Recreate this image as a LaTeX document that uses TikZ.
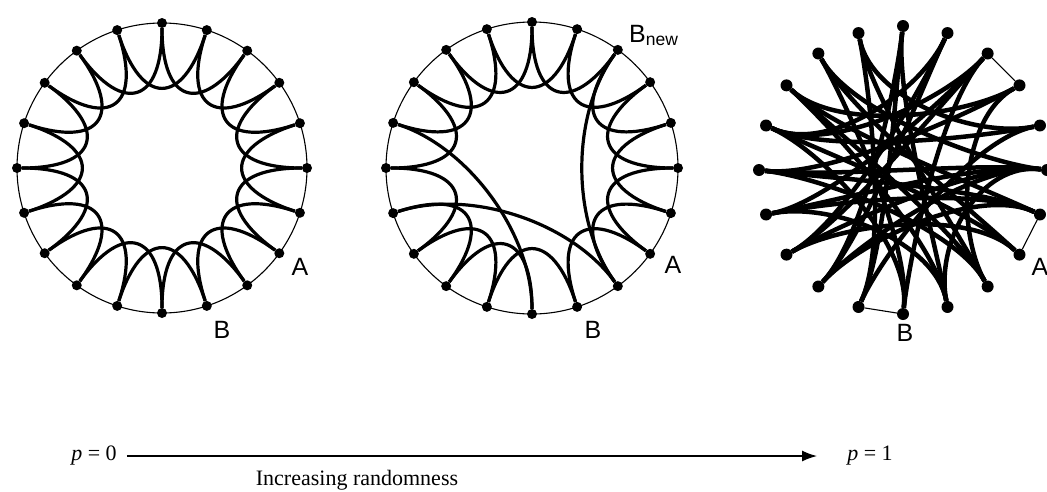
\documentclass[tikz,border=0pt]{standalone}
\usepackage{fontspec}
\setmainfont{Liberation Serif}
\newfontfamily\sflib{Liberation Sans}
\usetikzlibrary{arrows.meta}
\begin{document}
\begin{tikzpicture}[x=1pt,y=-1pt,
  dot/.style={circle,fill=black,inner sep=0pt,minimum size=10pt},
  bigdot/.style={circle,fill=black,inner sep=0pt,minimum size=12pt},
  ring/.style={line width=1.1pt},
  tedge/.style={line width=3.2pt},
  redge/.style={line width=4.5pt},
  lab/.style={font=\sflib\fontsize{25}{25}\selectfont,inner sep=0pt},
  txt/.style={font=\fontsize{22}{22}\selectfont,inner sep=0pt}
  ]
\path[use as bounding box] (0,0) rectangle (1047,491);

% ---------- circle 1 : regular ring ----------
\draw[ring] (162,168) circle[radius=145];
\foreach \k in {0,...,19}{
  \node[dot] (a\k) at ({162+145*cos(18*\k)},{168-145*sin(18*\k)}) {};
  \coordinate (ac\k) at ({162+65*cos(18*\k)},{168-65*sin(18*\k)});
}
\foreach \k [evaluate=\k as \j using {int(mod(\k+2,20))}] in {0,1,2,3,4,5,6,7,8,9,10,11,12,13,14,15,16,17,18,19}
  \draw[tedge] (a\k) .. controls (ac\k) and (ac\j) .. (a\j);

% ---------- circle 2 : small-world ----------
\draw[ring] (532,168) circle[radius=146];
\foreach \k in {0,...,19}{
  \node[dot] (b\k) at ({532+146*cos(18*\k)},{168-146*sin(18*\k)}) {};
  \coordinate (bc\k) at ({532+66*cos(18*\k)},{168-66*sin(18*\k)});
}
\foreach \k [evaluate=\k as \j using {int(mod(\k+2,20))}] in {0,1,2,3,4,5,6,7,8,10,11,12,13,14,16,17,18,19}
  \draw[tedge] (b\k) .. controls (bc\k) and (bc\j) .. (b\j);
\foreach \a/\b in {9/15,11/17,3/17}
  \draw[tedge] (b\a) .. controls (bc\a) and (bc\b) .. (b\b);

% ---------- circle 3 : random ----------
\foreach \k in {0,...,19}{
  \node[bigdot] (c\k) at ({903+144*cos(18*\k)},{170-144*sin(18*\k)}) {};
  \coordinate (cc\k) at ({903+78*cos(18*\k+6)},{170-78*sin(18*\k+6)});
}
\foreach \a/\b in {2/3,18/19,14/15}
  \draw[ring] (c\a) -- (c\b);
\foreach \a/\b in {5/13,5/16,4/12,4/9,6/17,6/1,7/18,7/0,8/19,8/2,9/1,9/18,10/0,10/19,10/17,11/0,11/3,12/3,13/4,14/6,14/5,15/7,16/0,17/8,15/3,15/9,16/8,16/11,11/19,12/0,13/19,14/1,18/12,2/10,17/2,3/9,0/13}
  \draw[redge] (c\a) .. controls (cc\a) and (cc\b) .. (c\b);

% ---------- labels ----------
\node[lab] (lA1) at (300,267) {A};
\node[lab] (lB1) at (222,330) {B};
\node[lab] (lA2) at (673,265) {A};
\node[lab] (lB2) at (593,330) {B};
\node[lab,anchor=base west] (lBn) at (629,42) {B\textsubscript{new}};
\node[lab] (lA3) at (1040,267) {A};
\node[lab] (lB3) at (905,333) {B};

% ---------- bottom ----------
\node[txt] (p0) at (94,456) {\textit{p} = 0};
\node[txt] (p1) at (870,456) {\textit{p} = 1};
\draw[line width=1.7pt,-{Latex[length=15pt,width=11pt]},shorten <=10pt,shorten >=30pt] (p0) -- (p1);
\node[txt] (inc) at (357,480) {Increasing randomness};
\end{tikzpicture}
\end{document}
